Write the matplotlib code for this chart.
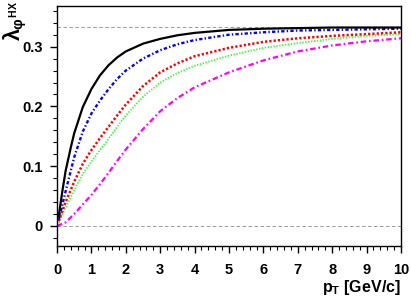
import matplotlib
matplotlib.use("Agg")
import matplotlib.pyplot as plt
from matplotlib.ticker import MultipleLocator

plt.rcParams['font.family'] = ['Liberation Sans', 'DejaVu Sans']
plt.rcParams['font.weight'] = 'bold'
plt.rcParams['mathtext.fontset'] = 'custom'
plt.rcParams['mathtext.rm'] = 'Liberation Sans:bold'
plt.rcParams['mathtext.bf'] = 'Liberation Sans:bold'
plt.rcParams['mathtext.it'] = 'Liberation Sans:bold'
plt.rcParams['lines.scale_dashes'] = False

# ---- data ----
pt_black = [0.05, 0.15, 0.25, 0.4, 0.5, 0.75, 1.0, 1.25, 1.5, 1.75, 2.0, 2.5, 3.0, 3.5, 4.0, 5.0, 6.0, 7.0, 8.0, 10.0]
lam_black = [0.016, 0.056, 0.092, 0.131, 0.155, 0.199, 0.229, 0.252, 0.269, 0.282, 0.292, 0.305, 0.313, 0.319, 0.323, 0.328, 0.330, 0.331, 0.332, 0.332]

pt_blue = [0.05, 0.25, 0.5, 0.75, 1.0, 1.25, 1.5, 1.75, 2.0, 2.5, 3.0, 3.5, 4.0, 5.0, 6.0, 7.0, 8.0, 10.0]
lam_blue = [0.010, 0.058, 0.115, 0.158, 0.188, 0.210, 0.229, 0.246, 0.260, 0.280, 0.294, 0.304, 0.311, 0.320, 0.324, 0.327, 0.328, 0.330]

pt_red = [0.05, 0.25, 0.5, 0.75, 1.0, 1.25, 1.5, 1.75, 2.0, 2.5, 3.0, 3.5, 4.0, 5.0, 6.0, 7.0, 8.0, 9.0, 10.0]
lam_red = [0.008, 0.040, 0.074, 0.104, 0.127, 0.147, 0.166, 0.185, 0.203, 0.234, 0.257, 0.272, 0.284, 0.298, 0.308, 0.314, 0.318, 0.321, 0.324]

pt_green = [0.05, 0.25, 0.5, 0.75, 1.0, 1.25, 1.5, 1.75, 2.0, 2.5, 3.0, 3.5, 4.0, 5.0, 6.0, 7.0, 8.0, 9.0, 10.0]
lam_green = [0.005, 0.031, 0.060, 0.087, 0.108, 0.127, 0.146, 0.166, 0.185, 0.216, 0.240, 0.256, 0.268, 0.285, 0.298, 0.306, 0.313, 0.318, 0.321]

pt_magenta = [0.0, 0.25, 0.5, 0.75, 1.0, 1.25, 1.5, 1.75, 2.0, 2.5, 3.0, 3.5, 4.0, 5.0, 6.0, 7.0, 8.0, 9.0, 10.0]
lam_magenta = [0.0, 0.006, 0.020, 0.036, 0.052, 0.070, 0.089, 0.109, 0.128, 0.162, 0.192, 0.214, 0.232, 0.257, 0.277, 0.292, 0.302, 0.309, 0.314]

ref_levels = [0.0, 1.0 / 3.0]
xticks = [0, 1, 2, 3, 4, 5, 6, 7, 8, 9, 10]
yticks = [0.0, 0.1, 0.2, 0.3]
ytick_labels = ['0', '0.1', '0.2', '0.3']

fig = plt.figure(figsize=(4.11, 3.0), dpi=100)
ax = fig.add_axes([57 / 411, 54 / 300, 344 / 411, 240 / 300])

for lv in ref_levels:
    ax.axhline(lv, color='#999999', lw=0.7, ls=(0, (2.5, 1.8)), zorder=1)

ax.plot(pt_magenta, lam_magenta, color='#ff00ff', lw=1.6, ls=(0, (4.0, 2.0, 1.2, 2.0)), zorder=2)
ax.plot(pt_green, lam_green, color='#33ff33', lw=1.3, ls=(0, (1.0, 1.1)), zorder=3)
ax.plot(pt_red, lam_red, color='#ff0000', lw=1.8, ls=(0, (1.6, 1.5)), zorder=4)
ax.plot(pt_blue, lam_blue, color='#0000ff', lw=1.7, ls=(0, (2.4, 1.6, 1.0, 1.6)), zorder=5)
ax.plot(pt_black, lam_black, color='black', lw=1.6, zorder=6)

ax.set_xlim(0, 10)
ax.set_ylim(-0.0335, 0.368)
ax.set_xticks(xticks)
ax.set_xticklabels([str(v) for v in xticks])
ax.set_yticks(yticks)
ax.set_yticklabels(ytick_labels)
ax.xaxis.set_minor_locator(MultipleLocator(0.2))
ax.yaxis.set_minor_locator(MultipleLocator(0.02))
ax.tick_params(which='major', direction='out', length=5, width=1, labelsize=10.5, pad=5)
ax.tick_params(axis='x', which='major', pad=7)
ax.tick_params(which='minor', direction='out', length=3, width=0.8)
ax.tick_params(top=False, right=False)
for s in ax.spines.values():
    s.set_linewidth(1.0)

fig.text(401 / 411, 3 / 300, r'p$_\mathrm{T}$ [GeV/c]', ha='right', va='bottom', fontsize=11.5, fontweight='bold')
fig.text(2 / 411, 1 - 1 / 300, r'$\lambda_{\varphi^{\mathrm{HX}}}$', rotation=90, ha='left', va='top', fontsize=15.5)

fig.savefig('out.png', dpi=100)
